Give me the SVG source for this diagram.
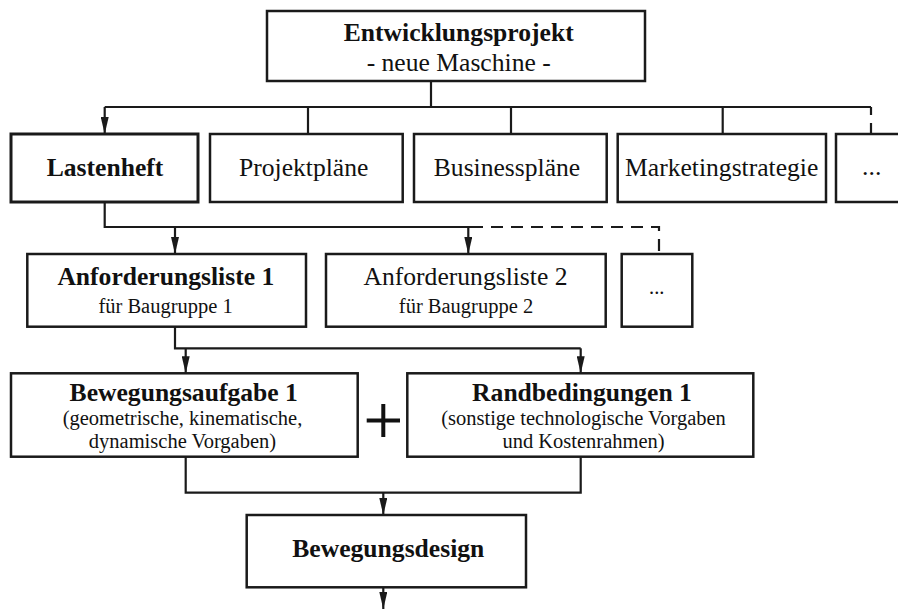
<svg xmlns="http://www.w3.org/2000/svg" width="898" height="609" viewBox="0 0 898 609">
<style>
.box{fill:#fff;stroke:#1a1a1a;stroke-width:2.5}
.thick{stroke-width:3}
.ln{fill:none;stroke:#1a1a1a;stroke-width:2.2}
.dash{stroke-dasharray:12 8}
text{font-family:"Liberation Serif","Times New Roman",serif;fill:#111;text-anchor:middle}
.t{font-size:25.6px}
.b{font-weight:bold}
.s{font-size:20.5px}
</style>
<defs>
<marker id="arr" viewBox="0 0 17 8" refX="17" refY="4" markerWidth="17" markerHeight="8" markerUnits="userSpaceOnUse" orient="auto">
<path d="M0,0 L17,4 L0,8 z" fill="#1a1a1a"/>
</marker>
</defs>
<rect width="898" height="609" fill="#fff"/>
<g id="connectors">
<path class="ln" d="M431,81 V107"/>
<path class="ln" d="M104.7,107 H871"/>
<path class="ln" d="M104.7,107 V134" marker-end="url(#arr)"/>
<path class="ln" d="M308,107 V134"/>
<path class="ln" d="M511,107 V134"/>
<path class="ln" d="M722.7,107 V134"/>
<path class="ln" d="M871,107 V115 M871,123 V134"/>
<path class="ln" d="M104.7,202 V227 H471"/>
<path class="ln dash" d="M471,227 H659 V254"/>
<path class="ln" d="M175,227 V254" marker-end="url(#arr)"/>
<path class="ln" d="M468.3,227 V254" marker-end="url(#arr)"/>
<path class="ln" d="M175,327 V348.3 H580.7"/>
<path class="ln" d="M185.7,348.3 V373.3" marker-end="url(#arr)"/>
<path class="ln" d="M580.7,348.3 V373.3" marker-end="url(#arr)"/>
<path class="ln" d="M185.7,456.7 V492.7 H580.7 V456.7"/>
<path class="ln" d="M383.3,492.7 V515" marker-end="url(#arr)"/>
<path class="ln" d="M383.3,587.3 V609" marker-end="url(#arr)"/>
</g>
<g id="n-projekt">
<rect class="box" x="267" y="11" width="378" height="70"/>
<text class="t b" x="458.7" y="41">Entwicklungsprojekt</text>
<text class="t" x="458.7" y="71">- neue Maschine -</text>
</g>
<g id="n-lastenheft">
<rect class="box thick" x="11" y="134" width="187" height="68"/>
<text class="t b" x="105" y="176">Lastenheft</text>
</g>
<g id="n-projektplaene">
<rect class="box" x="210" y="134" width="192.7" height="68"/>
<text class="t" x="303.7" y="176">Projektpläne</text>
</g>
<g id="n-businessplaene">
<rect class="box" x="414" y="134" width="192.7" height="68"/>
<text class="t" x="507" y="176">Businesspläne</text>
</g>
<g id="n-marketing">
<rect class="box" x="617.7" y="134" width="208.3" height="68"/>
<text class="t" x="721.7" y="176">Marketingstrategie</text>
</g>
<g id="n-more1">
<rect class="box" x="836" y="134" width="80" height="68"/>
<text class="t" x="871.7" y="175">...</text>
</g>
<g id="n-anf1">
<rect class="box" x="27.3" y="254" width="278.7" height="72.7"/>
<text class="t b" x="165.8" y="285">Anforderungsliste 1</text>
<text class="s" x="165.6" y="313.3">für Baugruppe 1</text>
</g>
<g id="n-anf2">
<rect class="box" x="326" y="254" width="279.7" height="72.7"/>
<text class="t" x="465.5" y="285">Anforderungsliste 2</text>
<text class="s" x="466" y="313.3">für Baugruppe 2</text>
</g>
<g id="n-more2">
<rect class="box" x="621.7" y="254" width="70.6" height="72.7"/>
<text class="s" x="656.7" y="294.3">...</text>
</g>
<g id="n-bewegungsaufgabe">
<rect class="box" x="11" y="373.3" width="346.7" height="83.4"/>
<text class="t b" x="183.7" y="400.7">Bewegungsaufgabe 1</text>
<text class="s" x="182.5" y="425">(geometrische, kinematische,</text>
<text class="s" x="182.5" y="448.3">dynamische Vorgaben)</text>
</g>
<g id="plus">
<path d="M383.3,404 V437 M366.7,420.5 H400" stroke="#111" stroke-width="4" fill="none"/>
</g>
<g id="n-randbedingungen">
<rect class="box" x="407.3" y="373.3" width="346" height="83.4"/>
<text class="t b" x="582" y="400.7">Randbedingungen 1</text>
<text class="s" x="583.5" y="425">(sonstige technologische Vorgaben</text>
<text class="s" x="583.5" y="448.3">und Kostenrahmen)</text>
</g>
<g id="n-bewegungsdesign">
<rect class="box" x="246.7" y="515" width="279.3" height="72.3"/>
<text class="t b" x="388.3" y="556.7">Bewegungsdesign</text>
</g>
</svg>
